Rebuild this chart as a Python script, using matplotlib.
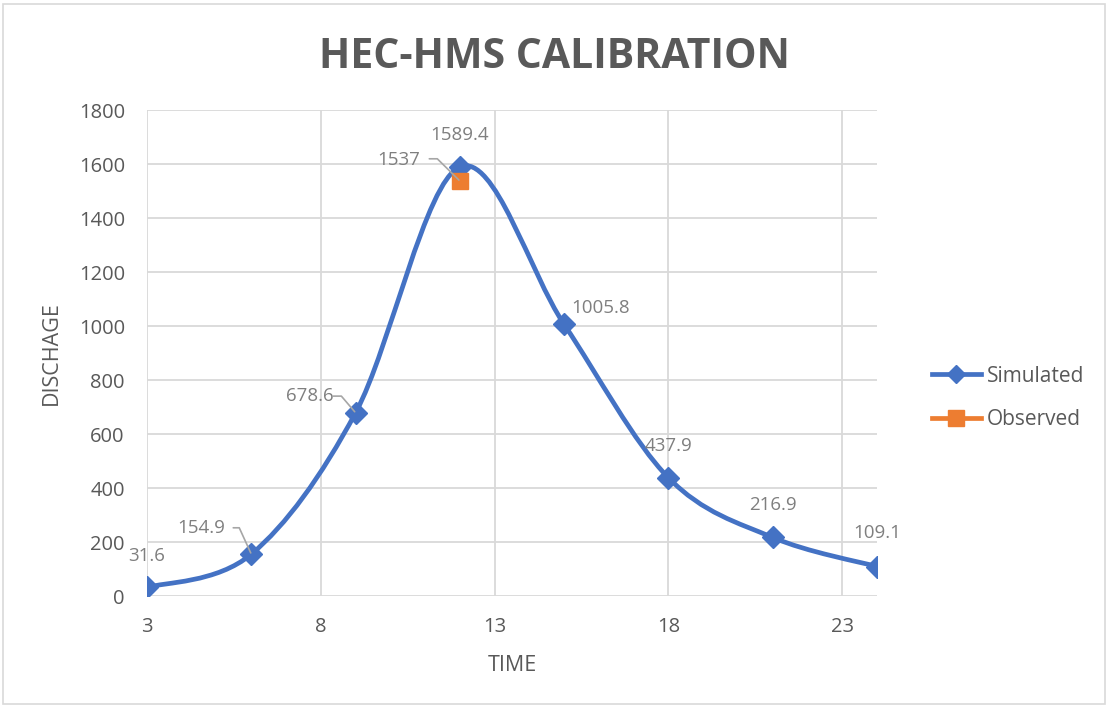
import numpy as np
import matplotlib
matplotlib.use('Agg')
import matplotlib.pyplot as plt
from matplotlib.path import Path
from matplotlib.patches import PathPatch, Rectangle
from matplotlib.lines import Line2D

time = [3, 6, 9, 12, 15, 18, 21, 24]
simulated = [31.6, 154.9, 678.6, 1589.4, 1005.8, 437.9, 216.9, 109.1]
obs_time = [12]
observed = [1537]

BLUE = '#4472C4'
ORANGE = '#ED7D31'
GRID = '#D9D9D9'
TXT = '#595959'
LBL = '#7F7F7F'

plt.rcParams['font.family'] = ['Open Sans', 'DejaVu Sans']


def smooth_path(xs, ys, k=1/6.):
    # cubic bezier through the points, like a spreadsheet "smoothed line"
    pts = np.column_stack([xs, ys]).astype(float)
    verts = [pts[0]]
    codes = [Path.MOVETO]
    n = len(pts)
    for i in range(n - 1):
        p0 = pts[i - 1] if i > 0 else pts[i]
        p1, p2 = pts[i], pts[i + 1]
        p3 = pts[i + 2] if i + 2 < n else pts[i + 1]
        c1 = p1 + (p2 - p0) * k
        c2 = p2 - (p3 - p1) * k
        verts += [c1, c2, p2]
        codes += [Path.CURVE4] * 3
    return Path(verts, codes)


def leader(ax, x, y, start, arm):
    # short horizontal stub from the label, then straight to the point
    ax.annotate('', (x, y), xytext=start, textcoords='offset points',
                arrowprops=dict(arrowstyle='-', color='#A6A6A6', lw=1.2,
                                shrinkA=0, shrinkB=1,
                                connectionstyle=f'arc,angleA=0,armA={arm},angleB=0,armB=0,rad=0'),
                zorder=6)


fig = plt.figure(figsize=(11.08, 7.07), dpi=100)
ax = fig.add_axes([0.1327, 0.157, 0.6588, 0.6874])

ax.add_patch(PathPatch(smooth_path(time, simulated), facecolor='none',
                       edgecolor=BLUE, lw=3.4, capstyle='round', zorder=3))
ax.plot(time, simulated, ls='none', marker='D', ms=11, color=BLUE, zorder=4)
ax.plot(obs_time, observed, ls='none', marker='s', ms=12, color=ORANGE, zorder=5)

ax.set_xlim(3, 24)
ax.set_ylim(0, 1800)
ax.set_xticks([3, 8, 13, 18, 23])
ax.set_yticks(range(0, 1801, 200))
ax.grid(True, color=GRID, lw=1.3)
ax.set_axisbelow(True)
for s in ax.spines.values():
    s.set_visible(False)
ax.tick_params(length=0, labelsize=14.5, labelcolor=TXT)
ax.tick_params(axis='y', pad=16)
ax.tick_params(axis='x', pad=15)

ax.set_xlabel('TIME', fontsize=15.5, color=TXT, labelpad=13)
ax.set_ylabel('DISCHAGE', fontsize=15.5, color=TXT, labelpad=12)

# data labels (offsets in points)
offs = {31.6: (0, 23), 154.9: (-36, 19), 678.6: (-33, 12), 1589.4: (0, 23),
        1005.8: (26, 12), 437.9: (0, 23), 216.9: (0, 23), 109.1: (0, 24)}
for x, y in zip(time, simulated):
    dx, dy = offs[y]
    ax.annotate(f'{y:g}', (x, y), xytext=(dx, dy), textcoords='offset points',
                ha='center', va='center', fontsize=13.5, color=LBL, zorder=6)
leader(ax, 6, 154.9, (-13, 19), 6)
leader(ax, 9, 678.6, (-16, 12), 8)

for x, y in zip(obs_time, observed):
    ax.annotate(f'{y:g}', (x, y), xytext=(-44, 15), textcoords='offset points',
                ha='center', va='center', fontsize=13.5, color=LBL, zorder=6)
    leader(ax, x, y, (-22, 16), 8)

fig.text(0.5, 0.918, 'HEC-HMS CALIBRATION', ha='center', va='center',
         fontsize=29.5, fontweight='bold', color=TXT)

handles = [Line2D([], [], color=BLUE, lw=3.4, marker='D', ms=9),
           Line2D([], [], color=ORANGE, lw=3.4, marker='s', ms=11)]
fig.legend(handles, ['Simulated', 'Observed'], loc='center left',
           bbox_to_anchor=(0.824, 0.437), frameon=False, fontsize=15,
           labelcolor=TXT, handlelength=2.35, handletextpad=0.3, labelspacing=1.1)

fig.add_artist(Rectangle((0.003, 0.004), 0.994, 0.99, transform=fig.transFigure,
                         fill=False, edgecolor=GRID, lw=1.2))

fig.savefig('out.png', dpi=100)
